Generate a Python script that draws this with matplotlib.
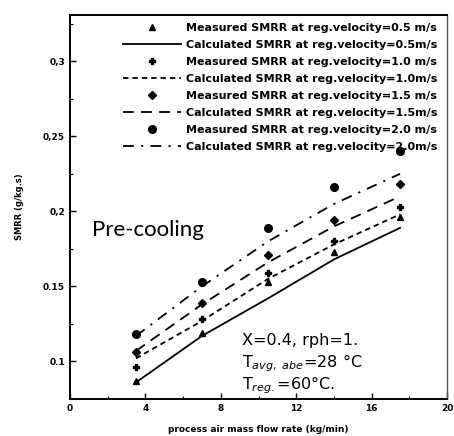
import matplotlib
matplotlib.use('Agg')

import matplotlib.pyplot as plt
from matplotlib.ticker import MultipleLocator

flow = [3.5, 7.0, 10.5, 14.0, 17.5]

meas_05 = [0.087, 0.119, 0.153, 0.173, 0.196]
meas_10 = [0.096, 0.128, 0.159, 0.180, 0.203]
meas_15 = [0.106, 0.139, 0.171, 0.194, 0.218]
meas_20 = [0.118, 0.153, 0.189, 0.216, 0.240]

calc_05 = [0.086, 0.117, 0.142, 0.168, 0.189]
calc_10 = [0.102, 0.127, 0.155, 0.178, 0.198]
calc_15 = [0.107, 0.138, 0.166, 0.190, 0.210]
calc_20 = [0.117, 0.150, 0.180, 0.205, 0.225]

velocities = ['0.5', '1.0', '1.5', '2.0']
yticks = [0.1, 0.15, 0.2, 0.25, 0.3]
yticklabels = ['0.1', '0.15', '0,2', '0,25', '0,3']


def run():
    fig = plt.figure(figsize=(4.54, 4.36), dpi=100)
    ax = fig.add_axes([0.154, 0.085, 0.831, 0.881])

    markers = ['^', 'P', 'D', 'o']
    msizes = [4.5, 5, 3.8, 5.5]
    styles = ['-', (0, (3, 2.2)), (0, (6, 4)), (0, (6, 4, 1.2, 4))]
    meas = [meas_05, meas_10, meas_15, meas_20]
    calc = [calc_05, calc_10, calc_15, calc_20]

    for v, m, ms, ls, ym, yc in zip(velocities, markers, msizes, styles, meas, calc):
        ax.plot(flow, ym, linestyle='none', marker=m, ms=ms, color='black',
                label='Measured SMRR at reg.velocity=%s m/s' % v)
        ax.plot(flow, yc, linestyle=ls, lw=1.3, color='black',
                label='Calculated SMRR at reg.velocity=%sm/s' % v)

    ax.set_xlim(0, 20)
    ax.set_ylim(0.075, 0.331)
    ax.set_xticks([0, 4, 8, 12, 16, 20])
    ax.xaxis.set_minor_locator(MultipleLocator(2))
    ax.set_yticks(yticks)
    ax.set_yticklabels(yticklabels)
    ax.yaxis.set_minor_locator(MultipleLocator(0.025))
    ax.tick_params(which='both', direction='in', labelsize=6.5)
    ax.tick_params(which='major', length=4, width=1)
    ax.tick_params(which='minor', length=2, width=0.8)
    for lab in ax.get_xticklabels() + ax.get_yticklabels():
        lab.set_fontweight('bold')
    for s in ['left', 'bottom', 'top']:
        ax.spines[s].set_linewidth(1.4)
    ax.spines['right'].set_linewidth(1.0)
    ax.spines['right'].set_color('#555555')

    ax.set_xlabel('process air mass flow rate (kg/min)', fontsize=6.5,
                  fontweight='bold', labelpad=9)
    ax.set_ylabel('SMRR (g/kg.s)', fontsize=6, fontweight='bold', labelpad=14)

    ax.legend(loc='upper right', bbox_to_anchor=(0.995, 1.0), frameon=False,
              handlelength=5.2, handletextpad=0.45, labelspacing=0.63,
              borderaxespad=0.3, prop={'size': 8.0, 'weight': 'bold'})

    ax.text(0.058, 0.424, 'Pre-cooling', transform=ax.transAxes, fontsize=16,
            family='Lato', va='baseline')
    ax.text(0.455, 0.14, 'X=0.4, rph=1.', transform=ax.transAxes, fontsize=11.5,
            va='baseline')
    ax.text(0.455, 0.083, 'T$_{avg,\\ abe}$=28 °C', transform=ax.transAxes,
            fontsize=11.5, va='baseline')
    ax.text(0.455, 0.024, 'T$_{reg.}$=60°C.', transform=ax.transAxes,
            fontsize=11.5, va='baseline')

    return fig


def main():
    fig = run()
    fig.savefig('out.png', dpi=100)


if __name__ == '__main__':
    main()
